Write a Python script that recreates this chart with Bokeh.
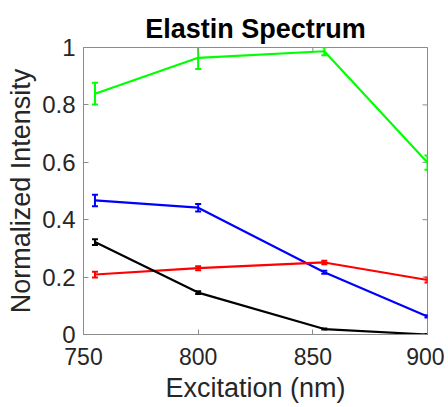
from bokeh.plotting import figure
from bokeh.models import Whisker, ColumnDataSource, FixedTicker, TeeHead, Range1d
from bokeh.embed import file_html
from bokeh.resources import INLINE
import math

excitation = [755, 800, 855, 900]
green = [0.839, 0.964, 0.987, 0.599]
green_err = [0.038, 0.039, 0.014, 0.025]
blue = [0.467, 0.442, 0.217, 0.063]
blue_err = [0.02, 0.013, 0.005, 0.004]
red = [0.209, 0.231, 0.251, 0.19]
red_err = [0.01, 0.007, 0.006, 0.009]
black = [0.322, 0.146, 0.019, 0.0]
black_err = [0.01, 0.005, 0.002, 0.002]
x_ticks = [750, 800, 850, 900]
y_ticks = [0, 0.2, 0.4, 0.6, 0.8, 1]
x_min, x_max = 750, 900
y_min, y_max = 0, 1

FONT = "Liberation Sans"
AXC = "#8c8c8c"
TXT = "#262626"

p = figure(width=444, height=405, output_backend="svg", toolbar_location=None,
           x_range=Range1d(x_min, x_max), y_range=Range1d(y_min, y_max),
           min_border_left=83, min_border_right=17, min_border_top=47, min_border_bottom=71)
p.title.text = "Elastin Spectrum"
p.title.align = "center"
p.title.text_font = FONT
p.title.text_font_size = "27px"
p.title.text_font_style = "bold"
p.title.text_color = "#000000"
p.title.standoff = 8
p.grid.visible = False
p.outline_line_color = AXC
p.background_fill_color = "white"

# box ticks on the top and right edges (half of each dash is clipped by the frame)
p.scatter(x=x_ticks, y=[y_max] * len(x_ticks), marker="dash", size=10, angle=math.pi / 2,
          line_color=AXC, line_width=1)
p.scatter(x=[x_max] * len(y_ticks), y=y_ticks, marker="dash", size=10,
          line_color=AXC, line_width=1)

series = [(green, green_err, "#00ff00"), (blue, blue_err, "#0000ff"),
          (red, red_err, "#ff0000"), (black, black_err, "#000000")]
for ys, es, col in series:
    src = ColumnDataSource(dict(x=excitation, y=ys,
                                lo=[a - b for a, b in zip(ys, es)],
                                hi=[a + b for a, b in zip(ys, es)]))
    p.line("x", "y", source=src, line_color=col, line_width=2.2)
    w = Whisker(base="x", lower="lo", upper="hi", source=src, dimension="height",
                line_color=col, line_width=2,
                upper_head=TeeHead(size=6, line_color=col, line_width=2),
                lower_head=TeeHead(size=6, line_color=col, line_width=2))
    p.add_layout(w)

for ax in (p.xaxis[0], p.yaxis[0]):
    ax.axis_line_color = AXC
    ax.major_tick_line_color = AXC
    ax.major_tick_in = 5
    ax.major_tick_out = 0
    ax.minor_tick_line_color = None
    ax.major_label_text_font = FONT
    ax.major_label_text_color = TXT
    ax.axis_label_text_font = FONT
    ax.axis_label_text_font_size = "27px"
    ax.axis_label_text_font_style = "normal"
    ax.axis_label_text_color = TXT

p.xaxis[0].major_label_text_font_size = "23px"
p.yaxis[0].major_label_text_font_size = "24px"
p.xaxis[0].major_label_standoff = 13
p.xaxis[0].axis_label_standoff = 5
p.yaxis[0].major_label_standoff = 8
p.yaxis[0].axis_label_standoff = 3

p.xaxis[0].ticker = FixedTicker(ticks=x_ticks)
p.yaxis[0].ticker = FixedTicker(ticks=y_ticks)
p.xaxis[0].axis_label = "Excitation (nm)"
p.yaxis[0].axis_label = "Normalized Intensity"
p.xaxis[0].major_label_overrides = {750: "750", 800: "800", 850: "850", 900: "900"}
p.yaxis[0].major_label_overrides = {0: "0", 0.2: "0.2", 0.4: "0.4", 0.6: "0.6", 0.8: "0.8", 1: "1"}

open("out.html", "w").write(file_html(p, INLINE))
